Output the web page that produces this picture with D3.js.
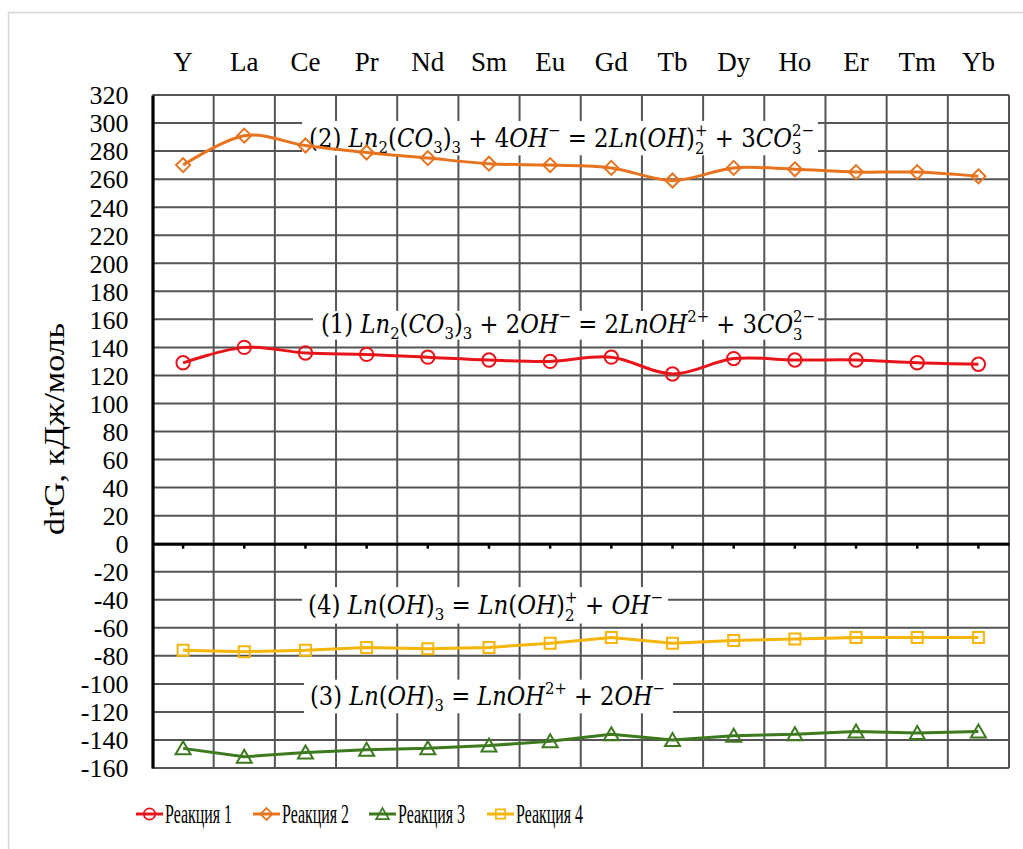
<!DOCTYPE html>
<html>
<head>
<meta charset="utf-8">
<script src="https://cdn.jsdelivr.net/npm/d3@7"></script>
<style>
  html, body { margin: 0; padding: 0; background: #fff; }
  svg { display: block; }
  text { font-family: "Liberation Serif", "Times New Roman", serif; fill: #000; }
</style>
</head>
<body>
<svg id="chart" width="1023" height="849"></svg>
<script>
// Lanthanides (plus Y) along the x axis
const elements = ["Y", "La", "Ce", "Pr", "Nd", "Sm", "Eu", "Gd", "Tb", "Dy", "Ho", "Er", "Tm", "Yb"];

// Gibbs energy of reaction, kJ/mol
const reaction1 = [129, 140, 136, 135, 133, 131, 130, 133, 121, 132, 131, 131, 129, 128];
const reaction2 = [270, 291, 284, 279, 275, 271, 270, 268, 259, 268, 267, 265, 265, 262];
const reaction3 = [-146, -152, -149, -147, -146, -144, -141, -136, -140, -137, -136, -134, -135, -134];
const reaction4 = [-76, -77, -76, -74, -75, -74, -71, -67, -71, -69, -68, -67, -67, -67];

const yTicks = [-160, -140, -120, -100, -80, -60, -40, -20, 0, 20, 40, 60, 80, 100, 120, 140, 160, 180, 200, 220, 240, 260, 280, 300, 320];

const seriesNames = ["Реакция 1", "Реакция 2", "Реакция 3", "Реакция 4"];
const axisTitle = "drG, кДж/моль";

const serif = "'Liberation Serif', 'Times New Roman', serif";
const svg = d3.select("#chart");

// outer frame
svg.append("rect")
  .attr("x", 8.5).attr("y", 12.5).attr("width", 1100).attr("height", 1000)
  .attr("fill", "none").attr("stroke", "#d6d6d6").attr("stroke-width", 1.5);

const plotLeft = 152.5, plotRight = 1009, plotTop = 95, plotBottom = 768;
const x = d3.scaleBand().domain(elements).range([plotLeft, plotRight]).padding(0);
const y = d3.scaleLinear().domain([-160, 320]).range([plotBottom, plotTop]);
const cx = d => x(d) + x.bandwidth() / 2;

const gridColor = "#555";
const grid = svg.append("g");
// horizontal grid
grid.selectAll("line.h").data(yTicks).join("line")
  .attr("x1", plotLeft).attr("x2", plotRight)
  .attr("y1", d => y(d)).attr("y2", d => y(d))
  .attr("stroke", gridColor).attr("stroke-width", 2);
// vertical grid at category boundaries
grid.selectAll("line.v").data(elements).join("line")
  .attr("x1", d => x(d) + x.bandwidth()).attr("x2", d => x(d) + x.bandwidth())
  .attr("y1", plotTop).attr("y2", plotBottom)
  .attr("stroke", gridColor).attr("stroke-width", 2);

// equation boxes
const equations = [
  { x0: 302, x1: 818, v0: 301.5, v1: 277, tx: 309, width: 505, tv: 289.5, tokens: [
    ["u", "(2) "], ["i", "Ln"], ["sub", "2"], ["u", "("], ["i", "CO"], ["sub", "3"], ["u", ")"], ["sub", "3"],
    ["u", " + 4"], ["i", "OH"], ["sup", "−"], ["u", " = 2"], ["i", "Ln"], ["u", "("], ["i", "OH"], ["u", ")"],
    ["both", "2", "+"], ["u", " + 3"], ["i", "CO"], ["both", "3", "2−"]] },
  { x0: 313, x1: 818, v0: 166, v1: 145.5, tx: 321, width: 494, tv: 157, tokens: [
    ["u", "(1) "], ["i", "Ln"], ["sub", "2"], ["u", "("], ["i", "CO"], ["sub", "3"], ["u", ")"], ["sub", "3"],
    ["u", " + 2"], ["i", "OH"], ["sup", "−"], ["u", " = 2"], ["i", "LnOH"], ["sup", "2+"], ["u", " + 3"], ["i", "CO"],
    ["both", "3", "2−"]] },
  { x0: 302, x1: 668, v0: -31, v1: -57, tx: 308, width: 355, tv: -43.5, tokens: [
    ["u", "(4) "], ["i", "Ln"], ["u", "("], ["i", "OH"], ["u", ")"], ["sub", "3"], ["u", " = "], ["i", "Ln"], ["u", "("], ["i", "OH"], ["u", ")"],
    ["both", "2", "+"], ["u", " + "], ["i", "OH"], ["sup", "−"]] },
  { x0: 304, x1: 673, v0: -97, v1: -121, tx: 310, width: 355, tv: -108.5, tokens: [
    ["u", "(3) "], ["i", "Ln"], ["u", "("], ["i", "OH"], ["u", ")"], ["sub", "3"], ["u", " = "], ["i", "LnOH"], ["sup", "2+"],
    ["u", " + 2"], ["i", "OH"], ["sup", "−"]] }
];

const eqFont = "'DejaVu Serif', 'Liberation Serif', serif";
const eqSize = 26, scriptSize = 17;
equations.forEach(eq => {
  const g = svg.append("g");
  g.append("rect")
    .attr("x", eq.x0).attr("y", y(eq.v0))
    .attr("width", eq.x1 - eq.x0).attr("height", y(eq.v1) - y(eq.v0))
    .attr("fill", "#fff");
  const base = y(eq.tv) + 9;
  const row = g.append("g");
  let cur = 0;
  const put = (str, size, italic, dy) => {
    const t = row.append("text")
      .attr("x", cur).attr("y", base + dy)
      .style("font-family", eqFont)
      .style("font-size", size + "px")
      .style("font-style", italic ? "italic" : "normal")
      .style("white-space", "pre")
      .text(str);
    return t.node().getComputedTextLength();
  };
  eq.tokens.forEach(tk => {
    const kind = tk[0];
    if (kind === "u") cur += put(tk[1], eqSize, false, 0);
    else if (kind === "i") cur += put(tk[1], eqSize, true, 0);
    else if (kind === "sub") cur += put(tk[1], scriptSize, false, 6);
    else if (kind === "sup") cur += put(tk[1], scriptSize, false, -11);
    else if (kind === "both") {
      const w1 = put(tk[1], scriptSize, false, 7);
      const w2 = put(tk[2], scriptSize, false, -11);
      cur += Math.max(w1, w2);
    }
  });
  // fit the formula horizontally into its box
  const k = eq.width / cur;
  row.attr("transform", `translate(${eq.tx},${base}) scale(${k},1) translate(0,${-base})`);
});

// y axis
const yAxis = svg.append("g").attr("transform", `translate(${plotLeft},0)`)
  .call(d3.axisLeft(y).tickValues(yTicks).tickSize(0).tickPadding(24).tickFormat(d => String(d)));
yAxis.attr("font-family", serif).attr("font-size", 26);
yAxis.select(".domain").attr("stroke", "#000").attr("stroke-width", 3.2);
yAxis.selectAll("text").style("font-family", serif).style("font-size", "26px").attr("dy", "0.34em");

// zero axis with category ticks
const zeroAxis = svg.append("g").attr("transform", `translate(0,${y(0)})`)
  .call(d3.axisBottom(x).tickSize(5).tickSizeOuter(0).tickFormat(""));
zeroAxis.select(".domain").attr("stroke", "#000").attr("stroke-width", 3);
zeroAxis.selectAll(".tick line").attr("stroke", "#000").attr("stroke-width", 2.5);

// category labels along the top
const topAxis = svg.append("g").attr("transform", "translate(0,71)")
  .call(d3.axisTop(x).tickSize(0).tickPadding(0));
topAxis.attr("font-family", serif).attr("font-size", 27);
topAxis.select(".domain").remove();
topAxis.selectAll("text").style("font-family", serif).style("font-size", "27px").attr("dy", "0");

// y axis title
svg.append("text")
  .attr("transform", "translate(64,429) rotate(-90)")
  .attr("text-anchor", "middle")
  .style("font-size", "30px")
  .attr("textLength", 212).attr("lengthAdjust", "spacingAndGlyphs")
  .text(axisTitle);

// series
const series = [
  { name: seriesNames[0], values: reaction1, color: "#e8141a", shape: "circle", curve: d3.curveCardinal.tension(0) },
  { name: seriesNames[1], values: reaction2, color: "#e8731f", shape: "diamond", curve: d3.curveCardinal.tension(0) },
  { name: seriesNames[2], values: reaction3, color: "#3d7a1f", shape: "triangle", curve: d3.curveLinear },
  { name: seriesNames[3], values: reaction4, color: "#f5b50a", shape: "square", curve: d3.curveLinear }
];

const markerPath = (shape) => {
  if (shape === "circle") return d3.symbol(d3.symbolCircle, 140)();
  if (shape === "diamond") return "M0,-7L7,0L0,7L-7,0Z";
  if (shape === "triangle") return "M0,-7L7.5,6L-7.5,6Z";
  return "M-5.5,-5.5H5.5V5.5H-5.5Z";
};

series.forEach(s => {
  const line = d3.line().x((d, i) => cx(elements[i])).y(d => y(d)).curve(s.curve);
  svg.append("path").datum(s.values)
    .attr("d", line).attr("fill", "none")
    .attr("stroke", s.color).attr("stroke-width", 3).attr("stroke-linejoin", "round");
  svg.append("g").selectAll("path").data(s.values).join("path")
    .attr("transform", (d, i) => `translate(${cx(elements[i])},${y(d)})`)
    .attr("d", markerPath(s.shape))
    .attr("fill", "none").attr("stroke", s.color).attr("stroke-width", 2);
});

// legend
const legendX = [136, 253, 369, 487];
const legendY = 814;
series.forEach((s, i) => {
  const g = svg.append("g").attr("transform", `translate(${legendX[i]},${legendY})`);
  g.append("line").attr("x1", 0).attr("x2", 27).attr("y1", 0).attr("y2", 0)
    .attr("stroke", s.color).attr("stroke-width", 3);
  g.append("path").attr("transform", "translate(13.5,0) scale(0.85)")
    .attr("d", markerPath(s.shape)).attr("fill", "none").attr("stroke", s.color).attr("stroke-width", 2);
  const t = g.append("text").attr("x", 0).attr("y", 0)
    .style("font-size", "27px")
    .text(s.name);
  const w = t.node().getComputedTextLength();
  t.attr("transform", `translate(29,9) scale(${67 / w},1)`);
});
</script>
</body>
</html>
